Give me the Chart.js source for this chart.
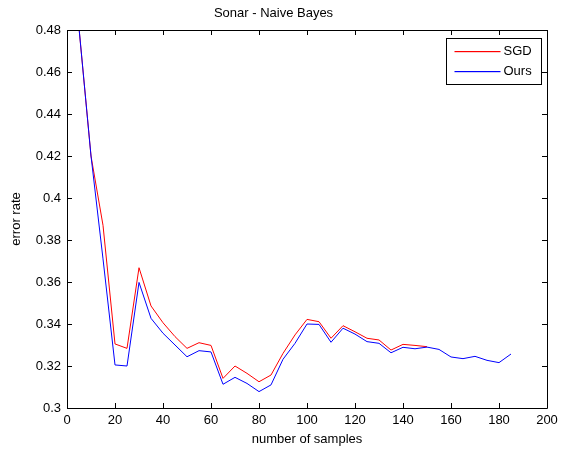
<!DOCTYPE html>
<html>
<head>
<meta charset="utf-8">
<script src="https://cdn.jsdelivr.net/npm/chart.js@4/dist/chart.umd.min.js"></script>
<style>
  html, body { margin: 0; padding: 0; background: #fff; }
  #wrap { width: 567px; height: 453px; }
</style>
</head>
<body>
<div id="wrap"><canvas id="chart" width="567" height="453"></canvas></div>
<script>
// Sonar - Naive Bayes: error rate vs number of samples

const samples = [5, 10, 15, 20, 25, 30, 35, 40, 45, 50, 55, 60, 65, 70, 75, 80, 85, 90, 95, 100,
    105, 110, 115, 120, 125, 130, 135, 140, 145, 150, 155, 160, 165, 170, 175, 180, 185];

const sgdError = [0.481, 0.420, 0.387, 0.3305, 0.3284, 0.3668, 0.3486, 0.3406, 0.334, 0.3284,
    0.3311, 0.3298, 0.3141, 0.320, 0.3165, 0.3125, 0.3157, 0.326, 0.3348, 0.3422,
    0.3411, 0.3332, 0.3392, 0.3363, 0.3332, 0.3324, 0.3276, 0.3303, 0.3298, 0.3292];

const oursError = [0.481, 0.420, 0.371, 0.3205, 0.320, 0.3598, 0.3427, 0.3356, 0.330, 0.3244,
    0.3273, 0.3267, 0.3113, 0.3146, 0.3117, 0.3078, 0.311, 0.3232, 0.3308, 0.340,
    0.3398, 0.3313, 0.338, 0.3352, 0.3316, 0.3308, 0.3263, 0.3289, 0.3282, 0.329,
    0.3279, 0.3243, 0.3235, 0.3246, 0.3227, 0.3216, 0.3257];

const xTicks = [0, 20, 40, 60, 80, 100, 120, 140, 160, 180, 200];
const yTicks = [0.3, 0.32, 0.34, 0.36, 0.38, 0.4, 0.42, 0.44, 0.46, 0.48];
const yTickLabels = ['0.3', '0.32', '0.34', '0.36', '0.38', '0.4', '0.42', '0.44', '0.46', '0.48'];

const seriesColors = ['#ff0000', '#0000ff'];

const FONT = 'Liberation Sans, Arial, Helvetica, sans-serif';

function toPoints(xs, ys) {
    return ys.map((y, i) => ({ x: xs[i], y: y }));
}

// Matlab style box with inward ticks on all four sides, plus legend box
const matlabAxes = {
    id: 'matlabAxes',
    afterDatasetsDraw(chart) {
        const { ctx, chartArea: a, scales } = chart;
        const len = 5;
        ctx.save();
        ctx.strokeStyle = '#000';
        ctx.lineWidth = 1;
        ctx.beginPath();
        ctx.rect(Math.round(a.left) + 0.5, Math.round(a.top) + 0.5,
            Math.round(a.right - a.left), Math.round(a.bottom - a.top));
        scales.x.ticks.forEach(t => {
            const px = Math.round(scales.x.getPixelForValue(t.value)) + 0.5;
            ctx.moveTo(px, a.bottom); ctx.lineTo(px, a.bottom - len);
            ctx.moveTo(px, a.top); ctx.lineTo(px, a.top + len);
        });
        scales.y.ticks.forEach(t => {
            const py = Math.round(scales.y.getPixelForValue(t.value)) + 0.5;
            ctx.moveTo(a.left, py); ctx.lineTo(a.left + len, py);
            ctx.moveTo(a.right, py); ctx.lineTo(a.right - len, py);
        });
        ctx.stroke();
        ctx.restore();

        // legend
        const bw = 95, bh = 46;
        const bx = Math.round(a.right - 6 - bw) + 0.5;
        const by = Math.round(a.top + 8) + 0.5;
        ctx.save();
        ctx.fillStyle = '#fff';
        ctx.fillRect(bx, by, bw, bh);
        ctx.lineWidth = 1;
        ctx.strokeStyle = '#000';
        ctx.strokeRect(bx, by, bw, bh);
        ctx.font = '13px ' + FONT;
        ctx.textBaseline = 'middle';
        ctx.textAlign = 'left';
        for (let i = 0; i < seriesColors.length; i++) {
            const ly = Math.round(by + 12 + i * 20);
            ctx.fillStyle = seriesColors[i];
            ctx.fillRect(bx + 8, ly, 46, 1.2);
            ctx.fillStyle = '#000';
            ctx.fillText(chart.data.datasets[i].label, bx + 57, ly);
        }
        ctx.restore();
    }
};

new Chart(document.getElementById('chart'), {
    type: 'line',
    data: {
        datasets: [{
            label: 'SGD',
            data: toPoints(samples, sgdError),
            borderColor: seriesColors[0],
            borderWidth: 1,
            pointRadius: 0,
            tension: 0,
            order: 1
        }, {
            label: 'Ours',
            data: toPoints(samples, oursError),
            borderColor: seriesColors[1],
            borderWidth: 1,
            pointRadius: 0,
            tension: 0,
            order: 0
        }]
    },
    options: {
        responsive: false,
        animation: false,
        layout: { padding: { left: 0, right: 20, top: 0, bottom: 0 } },
        plugins: {
            legend: { display: false },
            tooltip: { enabled: false },
            title: {
                display: true,
                text: 'Sonar - Naive Bayes',
                color: '#000',
                font: { family: FONT, size: 13, weight: 'normal' },
                padding: { top: 6, bottom: 8.4 }
            }
        },
        scales: {
            x: {
                type: 'linear',
                min: 0,
                max: 200,
                afterBuildTicks: s => { s.ticks = xTicks.map(v => ({ value: v })); },
                afterFit: s => { s.height = 45; },
                grid: { display: false, drawTicks: false },
                border: { display: false },
                ticks: {
                    color: '#000',
                    padding: 5,
                    maxRotation: 0,
                    font: { family: FONT, size: 13 }
                },
                title: {
                    display: true,
                    text: 'number of samples',
                    color: '#000',
                    font: { family: FONT, size: 13 },
                    padding: { top: 0, bottom: 6.2 }
                }
            },
            y: {
                min: 0.3,
                max: 0.48,
                afterBuildTicks: s => { s.ticks = yTicks.map(v => ({ value: v })); },
                afterFit: s => { s.width = 67; },
                grid: { display: false, drawTicks: false },
                border: { display: false },
                ticks: {
                    color: '#000',
                    padding: 6,
                    font: { family: FONT, size: 13 },
                    callback: (v, i) => yTickLabels[i]
                },
                title: {
                    display: true,
                    text: 'error rate',
                    color: '#000',
                    font: { family: FONT, size: 13 },
                    padding: { top: 8.2, bottom: 0 }
                }
            }
        }
    },
    plugins: [matlabAxes]
});
</script>
</body>
</html>
